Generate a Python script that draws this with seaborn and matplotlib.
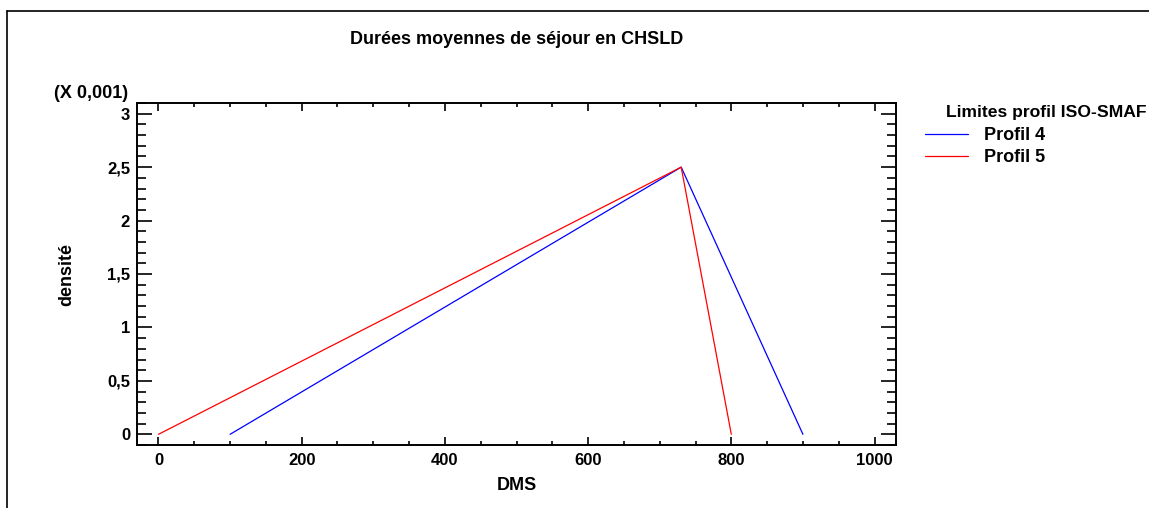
import matplotlib
matplotlib.use("Agg")
import matplotlib.pyplot as plt
from matplotlib.lines import Line2D
from matplotlib.ticker import MultipleLocator, FuncFormatter
import seaborn as sns
import pandas as pd

# Triangular densities (min, mode, max) for the two ISO-SMAF profiles, density in units of 0.001
profil4_dms = [100, 730, 900]
profil4_dens = [0.0, 2.5, 0.0]
profil5_dms = [0, 730, 800]
profil5_dens = [0.0, 2.5, 0.0]
series_names = ["Profil 4", "Profil 5"]
series_colors = ["#0000ff", "#ff0000"]

df = pd.concat([
    pd.DataFrame({"DMS": profil4_dms, "densite": profil4_dens, "profil": series_names[0]}),
    pd.DataFrame({"DMS": profil5_dms, "densite": profil5_dens, "profil": series_names[1]}),
])

sns.set_style("ticks")
plt.rcParams["font.family"] = ["Liberation Sans", "DejaVu Sans"]
plt.rcParams["font.weight"] = "bold"
for key in ["text.color", "axes.labelcolor", "xtick.color", "ytick.color", "axes.edgecolor"]:
    plt.rcParams[key] = "black"

W, H = 1149, 508
fig = plt.figure(figsize=(W / 100, H / 100), dpi=100)
ax = fig.add_axes([137 / W, 1 - 445 / H, (896 - 137) / W, (445 - 103) / H])

sns.lineplot(data=df, x="DMS", y="densite", hue="profil", palette=series_colors,
             hue_order=series_names, linewidth=0.9, sort=False, estimator=None,
             legend=False, ax=ax)

ax.set_xlim(-30, 1030)
ax.set_ylim(-0.1, 3.1)
ax.xaxis.set_major_locator(MultipleLocator(200))
ax.xaxis.set_minor_locator(MultipleLocator(50))
ax.yaxis.set_major_locator(MultipleLocator(0.5))
ax.yaxis.set_minor_locator(MultipleLocator(0.1))
ax.yaxis.set_major_formatter(FuncFormatter(lambda v, p: f"{v:g}".replace(".", ",")))

ax.tick_params(which="both", direction="in", top=True, right=True, width=1.2, labelsize=12,
               color="black", labelcolor="black")
ax.tick_params(axis="x", which="major", length=5.5, pad=6)
ax.tick_params(axis="x", which="minor", length=3)
ax.tick_params(axis="y", which="major", length=11, pad=5)
ax.tick_params(axis="y", which="minor", length=6.5)
for sp in ax.spines.values():
    sp.set_linewidth(1.4)
    sp.set_color("black")
    sp.set_visible(True)
for lab in ax.get_xticklabels() + ax.get_yticklabels():
    lab.set_fontweight("bold")

ax.set_xlabel("DMS", fontsize=13, fontweight="bold")
ax.xaxis.label.set_va("center")
ax.xaxis.set_label_coords(0.5, -(485 - 445) / (445 - 103))
ax.set_ylabel("densité", fontsize=13, fontweight="bold")
ax.yaxis.label.set_va("center")
ax.yaxis.set_label_coords(-(137 - 67) / (896 - 137), 0.5)

fig.text(516.5 / W, 1 - 39 / H, "Durées moyennes de séjour en CHSLD", ha="center", va="center",
         fontsize=13, fontweight="bold")
fig.text(128 / W, 1 - 93 / H, "(X 0,001)", ha="right", va="center", fontsize=13, fontweight="bold")

# Legend: title placed above, entries below
fig.text(946 / W, 1 - 113 / H, "Limites profil ISO-SMAF", ha="left", va="center",
         fontsize=12.6, fontweight="bold")
handles = [Line2D([0], [0], color=c, lw=0.9) for c in series_colors]
leg = fig.legend(handles, series_names, loc="upper left",
                 bbox_to_anchor=(925 / W, 1 - 127 / H), frameon=False, fontsize=13,
                 handlelength=2.4, handletextpad=0.85, labelspacing=0.3,
                 borderaxespad=0, borderpad=0)
for t in leg.get_texts():
    t.set_fontweight("bold")

# Outer frame lines
fig.add_artist(Line2D([7 / W, 1.0], [1 - 11 / H, 1 - 11 / H], color="black", lw=1.2, transform=fig.transFigure))
fig.add_artist(Line2D([7 / W, 7 / W], [0, 1 - 11 / H], color="black", lw=1.2, transform=fig.transFigure))

fig.savefig("out.png", dpi=100)
